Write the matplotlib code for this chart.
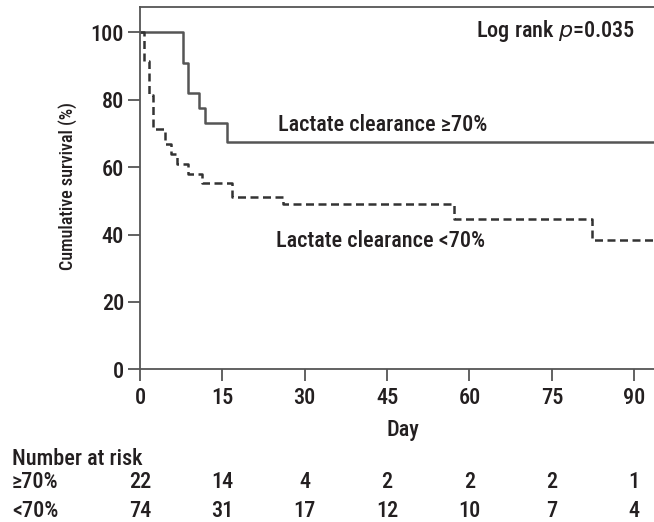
import matplotlib
matplotlib.use("Agg")
import matplotlib.pyplot as plt
from matplotlib import font_manager
from matplotlib.transforms import blended_transform_factory

# Kaplan-Meier step data (day, cumulative survival %)
high_days = [0, 7.8, 8.7, 10.8, 11.9, 15.9, 94]
high_surv = [100, 91, 82, 77.5, 73, 67.5, 67.5]

low_days = [0, 0.8, 1.6, 2.4, 4.5, 5.6, 6.8, 8.8, 11.3, 16.8, 26, 57.1, 82.4, 94]
low_surv = [100, 91.5, 81.4, 71.2, 67, 63.8, 60.9, 58, 55.2, 51.2, 49, 44.6, 38.4, 38.4]

x_ticks = [0, 15, 30, 45, 60, 75, 90]
y_ticks = [0, 20, 40, 60, 80, 100]

risk_rows = ["\u226570%", "<70%"]
risk_high = [22, 14, 4, 2, 2, 2, 1]
risk_low = [74, 31, 17, 12, 10, 7, 4]

names = {f.name for f in font_manager.fontManager.ttflist}
family = [n for n in ["Liberation Sans Narrow", "Roboto Condensed", "Liberation Sans"] if n in names]
plt.rcParams["font.family"] = family + ["DejaVu Sans"]
plt.rcParams["font.weight"] = "medium"

TXT = "#231f20"
AX = "#555555"
FS = 16

W, H = 654, 522
fig = plt.figure(figsize=(W / 100, H / 100), dpi=100)
ax = fig.add_axes([140 / W, (H - 369.3) / H, 514 / W, (369.3 - 6.7) / H])

ax.step(high_days, high_surv, where="post", color="#555555", lw=1.8, clip_on=True)
ax.step(low_days, low_surv, where="post", color="#333333", lw=1.8,
        linestyle=(0, (3.2, 1.8)), clip_on=True)

ax.set_xlim(0, 93.6)
ax.set_ylim(0, 107.6)
ax.set_xticks(x_ticks)
ax.set_yticks(y_ticks)
ax.spines["right"].set_visible(False)
for s in ["left", "bottom", "top"]:
    ax.spines[s].set_color(AX)
    ax.spines[s].set_linewidth(1.3)
ax.tick_params(direction="out", length=8.5, width=1.3, color=AX,
               labelsize=FS, labelcolor=TXT)
ax.tick_params(axis="x", pad=4)
ax.tick_params(axis="y", pad=3)


def px(x, y):
    return x / W, 1 - y / H


fig.text(*px(68, 186), "Cumulative survival (%)", rotation=90, ha="center",
         va="center", fontsize=13, color=TXT)
fig.text(*px(403, 436), "Day", ha="center", va="baseline", fontsize=FS, color=TXT)

ax.text(25.2, 70.7, "Lactate clearance \u226570%", ha="left", va="baseline",
        fontsize=FS, color=TXT)
ax.text(24.7, 36.4, "Lactate clearance <70%", ha="left", va="baseline",
        fontsize=FS, color=TXT)
ax.text(90.2, 98.5, "Log rank $\\mathit{p}$=0.035", ha="right", va="baseline",
        fontsize=FS, color=TXT)

# Number-at-risk table below the axis
fig.text(*px(12, 465), "Number at risk", ha="left", va="baseline", fontsize=FS, color=TXT)
row_y = [488, 517]
trans = blended_transform_factory(ax.transData, fig.transFigure)
for label, counts, yy in zip(risk_rows, [risk_high, risk_low], row_y):
    fig.text(*px(12, yy), label, ha="left", va="baseline", fontsize=FS, color=TXT)
    for xv, n in zip(x_ticks, counts):
        fig.text(xv, 1 - yy / H, str(n), transform=trans, ha="center",
                 va="baseline", fontsize=FS, color=TXT)

fig.savefig("out.png", dpi=100)
